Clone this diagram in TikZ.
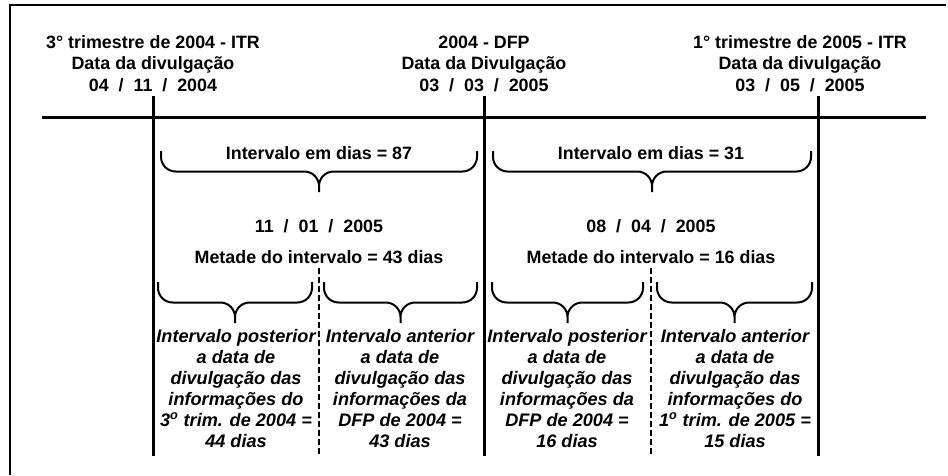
\documentclass[tikz,border=0pt]{standalone}
\usepackage{fontspec}
\setmainfont{Liberation Sans}
\tikzset{
  txt/.style={font=\bfseries\fontsize{13.4}{16.1}\selectfont,align=center,inner sep=0pt,anchor=base},
  note/.style={txt,font=\bfseries\itshape\fontsize{13.6}{15.75}\selectfont},
  frame/.style={line width=1.5pt},
  axis/.style={line width=2.25pt},
  dateline/.style={line width=2.25pt},
  halfline/.style={line width=1.4pt,dash pattern=on 4.5pt off 2.25pt},
  brc/.style={line width=1.5pt,rounded corners=11pt}
}
% curly brace: left x, right x, top y (tip points down)
\newcommand{\ibrace}[3]{%
  \draw[brc] (#1,#3) |- ({(#1+#2)/2},#3+20.5) -- ({(#1+#2)/2},#3+41)
    ({(#1+#2)/2},#3+41) -- ({(#1+#2)/2},#3+20.5) -| (#2,#3);}

\begin{document}
\begin{tikzpicture}[x=0.75pt,y=-0.75pt]
\useasboundingbox (0,0) rectangle (948,475);
\draw[frame] (10,475) |- (946,4.5);

% time axis and the three release dates
\coordinate (a0) at (42,117);
\coordinate (a1) at (926,117);
\draw[axis] (a0) -- (a1);
\coordinate (d1t) at (153,96);  \coordinate (d1b) at (153,456);
\coordinate (d2t) at (484,96);  \coordinate (d2b) at (484,456);
\coordinate (d3t) at (818,96);  \coordinate (d3b) at (818,456);
\draw[dateline] (d1t) -- (d1b);
\draw[dateline] (d2t) -- (d2b);
\draw[dateline] (d3t) -- (d3b);

% base = last line
\node[txt] (itr3) at (153,91) {3° trimestre de 2004 - ITR\\Data da divulgação\\04~~/~~11~~/~~2004};
\node[txt] (dfp) at (484,91) {2004 - DFP\\Data da Divulgação\\03~~/~~03~~/~~2005};
\node[txt] (itr1) at (800,91) {1° trimestre de 2005 - ITR\\Data da divulgação\\03~~/~~05~~/~~2005};

% first interval
\node[txt] (int1) at (319,159) {Intervalo em dias = 87};
\ibrace{161}{477}{151}
\node[txt] (mid1) at (319,232) {11~~/~~01~~/~~2005};
\node[txt] (half1) at (319,263) {Metade do intervalo = 43 dias};
\coordinate (h1t) at (319,268);
\coordinate (h1b) at (319,456);
\draw[halfline] (h1t) -- (h1b);
\ibrace{158}{312}{282}
\ibrace{324}{477}{282}
\node[note] (pos1) at (236,447) {Intervalo posterior\\a data de\\divulgação das\\informações do\\3\textsuperscript{o} trim. de 2004 =\\44 dias};
\node[note] (ant1) at (400,447) {Intervalo anterior\\a data de\\divulgação das\\informações da\\DFP de 2004 =\\43 dias};

% second interval
\node[txt] (int2) at (651,159) {Intervalo em dias = 31};
\ibrace{493}{811}{151}
\node[txt] (mid2) at (651,232) {08~~/~~04~~/~~2005};
\node[txt] (half2) at (651,263) {Metade do intervalo = 16 dias};
\coordinate (h2t) at (651,268);
\coordinate (h2b) at (651,456);
\draw[halfline] (h2t) -- (h2b);
\ibrace{492}{643}{282}
\ibrace{657}{812}{282}
\node[note] (pos2) at (567,447) {Intervalo posterior\\a data de\\divulgação das\\informações da\\DFP de 2004 =\\16 dias};
\node[note] (ant2) at (735,447) {Intervalo anterior\\a data de\\divulgação das\\informações do\\1\textsuperscript{o} trim. de 2005 =\\15 dias};
\end{tikzpicture}
\end{document}
